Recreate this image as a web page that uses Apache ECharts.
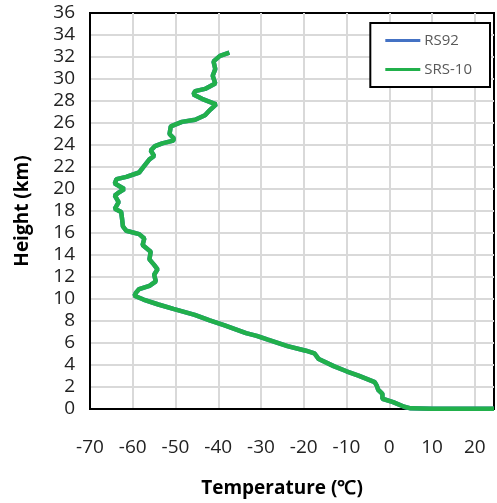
<!DOCTYPE html>
<html>
<head>
<meta charset="utf-8">
<script src="https://cdn.jsdelivr.net/npm/echarts@6/dist/echarts.min.js"></script>
<style>html,body{margin:0;padding:0;background:#fff}#c{width:497px;height:503px}</style>
</head>
<body>
<div id="c"></div>
<script>
// Temperature (°C), Height (km) pairs, from the surface upward
const srs10 = [
  [24.5, 0.03], [10, 0.03], [5.0, 0.06], [3.5, 0.2], [0.9, 0.63], [-1.6, 0.93],
  [-1.6, 1.38], [-2.6, 1.75], [-2.9, 2.1], [-3.4, 2.44], [-5.3, 2.74], [-7.2, 3.04],
  [-10, 3.43], [-13, 3.9], [-16.5, 4.54], [-17.1, 4.85], [-17.5, 5.05], [-19.5, 5.3],
  [-23.8, 5.72], [-28.4, 6.3], [-31, 6.65], [-33.5, 6.9], [-38.5, 7.6], [-42, 8.05],
  [-45.5, 8.55], [-50.5, 9.1], [-54, 9.5], [-57.5, 9.95], [-59.6, 10.3], [-59.2, 10.6],
  [-58.5, 10.9], [-56.1, 11.2], [-54.6, 11.6], [-55, 12.2], [-54.2, 12.7], [-55, 13.1],
  [-56.1, 13.6], [-55.8, 14.3], [-57.7, 14.9], [-57.3, 15.5], [-58.5, 15.9], [-61.5, 16.2],
  [-62.3, 16.6], [-62.5, 17.3], [-62.7, 17.9], [-64.2, 18.2], [-63.3, 18.8], [-64.2, 19.4],
  [-63.2, 19.7], [-62.0, 20.0], [-64.2, 20.5], [-63.8, 20.9], [-61.5, 21.1], [-58.5, 21.5],
  [-57.3, 22.1], [-56.1, 22.7], [-55.0, 23.0], [-55.8, 23.5], [-54.8, 23.9], [-53.1, 24.15],
  [-50.5, 24.4], [-50.4, 24.6], [-51.4, 25.0], [-51.1, 25.7], [-48.5, 26.1], [-45.4, 26.3],
  [-43.1, 26.7], [-41.9, 27.2], [-40.5, 27.7], [-43.8, 28.2], [-45.8, 28.6], [-45.4, 28.9],
  [-43.1, 29.1], [-40.7, 29.6], [-41.3, 30.3], [-40.7, 30.9], [-41.1, 31.6], [-39.6, 32.1],
  [-37.4, 32.4]
];
// RS92 profile lies underneath SRS-10 in the picture
const rs92 = [
  [24.5, 0.03], [10, 0.03], [5.0, 0.06], [3.5, 0.2], [0.9, 0.63], [-1.6, 0.93],
  [-1.6, 1.38], [-2.6, 1.75], [-2.9, 2.1], [-3.4, 2.44], [-5.3, 2.74], [-7.2, 3.04],
  [-10, 3.43], [-13, 3.9], [-16.5, 4.54], [-17.1, 4.85], [-17.5, 5.05], [-19.5, 5.3],
  [-23.8, 5.72], [-28.4, 6.3], [-31, 6.65], [-33.5, 6.9], [-38.5, 7.6], [-42, 8.05],
  [-45.5, 8.55], [-50.5, 9.1], [-54, 9.5], [-57.5, 9.95], [-59.6, 10.3], [-59.2, 10.6],
  [-58.5, 10.9], [-56.1, 11.2], [-54.6, 11.6], [-55, 12.2], [-54.2, 12.7], [-55, 13.1],
  [-56.1, 13.6], [-55.8, 14.3], [-57.7, 14.9], [-57.3, 15.5], [-58.5, 15.9], [-61.5, 16.2],
  [-62.3, 16.6], [-62.5, 17.3], [-62.7, 17.9], [-64.2, 18.2], [-63.3, 18.8], [-64.2, 19.4],
  [-63.2, 19.7], [-62.0, 20.0], [-64.2, 20.5], [-63.8, 20.9], [-61.5, 21.1], [-58.5, 21.5],
  [-57.3, 22.1], [-56.1, 22.7], [-55.0, 23.0], [-55.8, 23.5], [-54.8, 23.9], [-53.1, 24.15],
  [-50.5, 24.4], [-50.4, 24.6], [-51.4, 25.0], [-51.1, 25.7], [-48.5, 26.1], [-45.4, 26.3],
  [-43.1, 26.7], [-41.9, 27.2], [-40.5, 27.7], [-43.8, 28.2], [-45.8, 28.6], [-45.4, 28.9],
  [-43.1, 29.1], [-40.7, 29.6], [-41.3, 30.3], [-40.7, 30.9], [-41.1, 31.6], [-39.6, 32.1],
  [-37.4, 32.4]
];
const seriesNames = ['RS92', 'SRS-10'];
const xMin = -70, xMax = 24.5, xStep = 10;
const yMin = 0, yMax = 36, yStep = 2;

const chart = echarts.init(document.getElementById('c'), null, {renderer: 'canvas'});
const font = '"Open Sans", "Liberation Sans", sans-serif';
const splitStyle = {show: true, showMinLine: false, showMaxLine: false, lineStyle: {color: '#d9d9d9', width: 2}};
chart.setOption({
  animation: false,
  backgroundColor: '#fff',
  grid: {left: 90, top: 13, right: 1, bottom: 91, show: true, borderColor: '#000', borderWidth: 2, containLabel: false},
  legend: {
    orient: 'vertical', right: 7, top: 23,
    backgroundColor: '#fff', borderColor: '#000', borderWidth: 2,
    padding: [10, 18, 10, 15], itemGap: 14,
    icon: 'rect', itemWidth: 35, itemHeight: 3, itemStyle: {borderWidth: 0},
    textStyle: {fontFamily: font, fontSize: 15, color: '#595959', padding: [0, 0, 0, -1]},
    data: seriesNames
  },
  xAxis: {
    type: 'value', min: xMin, max: xMax, interval: xStep,
    name: 'Temperature (℃)', nameLocation: 'middle', nameGap: 70,
    nameTextStyle: {fontFamily: font, fontSize: 19, fontWeight: 'bold', color: '#000', padding: [0, 20, 0, 0]},
    axisLine: {show: true, onZero: false, lineStyle: {color: '#000', width: 2}},
    axisTick: {show: false},
    axisLabel: {margin: 29, fontFamily: font, fontSize: 19, color: '#222',
      formatter: v => (Math.abs(v % 10) < 1e-9 ? String(v) : '')},
    splitLine: splitStyle
  },
  yAxis: {
    type: 'value', min: yMin, max: yMax, interval: yStep,
    name: 'Height (km)', nameLocation: 'middle', nameGap: 58,
    nameTextStyle: {fontFamily: font, fontSize: 19, fontWeight: 'bold', color: '#000'},
    axisLine: {show: true, onZero: false, lineStyle: {color: '#000', width: 2}},
    axisTick: {show: false},
    axisLabel: {margin: 15, fontFamily: font, fontSize: 19, color: '#222'},
    splitLine: splitStyle
  },
  series: [
    {name: seriesNames[0], type: 'line', data: rs92, showSymbol: false, symbol: 'none',
      color: '#4472c4', lineStyle: {width: 4.5, color: '#4472c4'}, z: 2},
    {name: seriesNames[1], type: 'line', data: srs10, showSymbol: false, symbol: 'none',
      color: '#21b04b', lineStyle: {width: 4.5, color: '#21b04b'}, z: 3}
  ]
});
</script>
</body>
</html>
